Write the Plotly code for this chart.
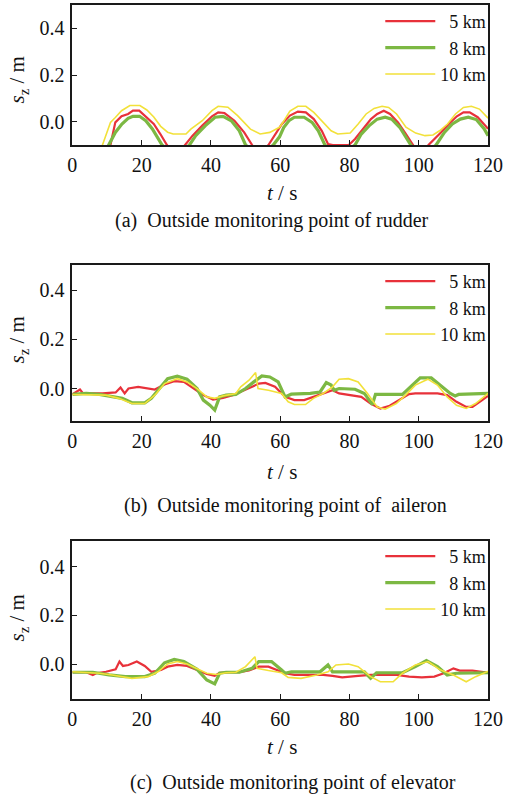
import plotly.graph_objects as go

# ---------------- data ----------------
# (a) rudder
a_t_5km = [9.5, 11.0, 12.4, 14.2, 16.1, 17.5, 19.3, 21.2, 23.5, 25.4, 27.3, 29.8, 32.4, 34.7, 37.5, 40.3, 42.1, 43.9, 46.8, 49.6, 51.9, 54.2, 56.6, 58.9, 60.5, 62.8, 65.1, 67.4, 69.7, 72.0, 73.8, 75.2, 79.8, 81.6, 83.9, 86.2, 88.0, 89.9, 91.7, 94.0, 96.3, 98.2, 100.5, 102.8, 104.6, 106.4, 108.7, 111.0, 112.9, 114.7, 117.0, 119.3, 120.0]
a_sz_5km = [-0.15, -0.1, -0.003, 0.023, 0.033, 0.047, 0.047, 0.023, -0.01, -0.053, -0.1, -0.15, -0.1, -0.06, -0.017, 0.023, 0.04, 0.037, 0.004, -0.046, -0.1, -0.15, -0.1, -0.05, -0.01, 0.026, 0.043, 0.04, 0.011, -0.039, -0.096, -0.1, -0.1, -0.074, -0.031, 0.011, 0.033, 0.047, 0.033, -0.003, -0.053, -0.1, -0.15, -0.1, -0.074, -0.046, -0.01, 0.023, 0.04, 0.04, 0.019, -0.017, -0.03]
a_t_8km = [9.0, 10.5, 12.4, 14.3, 16.1, 17.5, 19.4, 21.2, 23.1, 24.9, 25.9, 29.8, 33.8, 35.6, 38.4, 41.2, 43.5, 45.9, 48.2, 50.0, 54.0, 58.0, 59.8, 61.0, 62.5, 64.1, 66.9, 69.2, 71.0, 72.9, 77.0, 81.6, 83.4, 85.7, 88.0, 90.3, 92.2, 94.5, 96.3, 97.7, 101.0, 105.0, 107.4, 109.7, 112.0, 114.3, 116.6, 118.9, 120.0]
a_sz_8km = [-0.15, -0.1, -0.046, -0.01, 0.014, 0.023, 0.023, 0.004, -0.031, -0.074, -0.1, -0.15, -0.1, -0.06, -0.017, 0.019, 0.023, 0.004, -0.039, -0.1, -0.15, -0.1, -0.065, -0.025, 0.004, 0.019, 0.019, -0.003, -0.039, -0.1, -0.15, -0.1, -0.053, -0.017, 0.011, 0.019, 0.011, -0.024, -0.067, -0.1, -0.15, -0.1, -0.046, -0.01, 0.011, 0.019, 0.009, -0.031, -0.06]
a_t_10km = [7.5, 8.65, 11.0, 12.4, 14.2, 16.6, 19.5, 21.5, 23.5, 25.5, 27.5, 29.1, 32.8, 34.2, 37.5, 40.3, 42.1, 44.9, 47.7, 51.4, 54.2, 57.0, 59.8, 60.7, 62.8, 65.1, 67.4, 69.7, 72.4, 74.7, 76.6, 80.2, 82.5, 84.8, 87.1, 89.4, 91.3, 93.6, 96.3, 99.1, 101.8, 104.1, 106.0, 108.3, 110.6, 112.9, 115.2, 117.5, 120.0]
a_sz_10km = [-0.15, -0.1, -0.003, 0.018, 0.047, 0.069, 0.069, 0.05, 0.02, -0.02, -0.045, -0.053, -0.053, -0.032, 0.004, 0.047, 0.066, 0.062, 0.026, -0.032, -0.053, -0.046, -0.024, -0.005, 0.045, 0.066, 0.066, 0.04, -0.003, -0.039, -0.053, -0.049, -0.01, 0.033, 0.057, 0.066, 0.061, 0.033, -0.024, -0.049, -0.06, -0.057, -0.039, -0.01, 0.033, 0.061, 0.066, 0.054, 0.015]

# (b) aileron
b_t_5km = [0, 2.2, 3.1, 8.7, 12.5, 13.9, 15.1, 16.2, 19.0, 21.9, 23.8, 26.6, 29.4, 32.2, 35.0, 37.8, 40.6, 43.5, 46.3, 49.1, 51.9, 53.8, 55.7, 58.5, 61.4, 64.1, 66.9, 69.6, 72.4, 75.1, 77.0, 80.6, 83.4, 86.1, 88.9, 91.6, 94.4, 97.2, 99.0, 105.4, 108.2, 110.9, 113.7, 115.5, 118.3, 120.0]
b_sz_5km = [-0.024, -0.004, -0.02, -0.02, -0.016, 0.004, -0.02, 0.0, 0.007, 0.0, -0.004, 0.016, 0.03, 0.027, 0.0, -0.027, -0.045, -0.038, -0.027, -0.011, 0.007, 0.02, 0.023, 0.007, -0.034, -0.047, -0.047, -0.034, -0.02, -0.007, -0.02, -0.027, -0.034, -0.061, -0.081, -0.07, -0.047, -0.023, -0.02, -0.02, -0.027, -0.054, -0.075, -0.075, -0.047, -0.03]
b_t_8km = [0, 4.0, 7.8, 11.5, 14.4, 17.2, 20.9, 22.8, 25.2, 27.5, 30.3, 33.1, 36.0, 37.8, 39.7, 41.1, 42.5, 44.4, 47.2, 50.0, 52.4, 54.7, 57.0, 59.4, 61.4, 63.2, 68.7, 71.5, 73.3, 74.7, 75.6, 77.0, 81.6, 84.3, 86.6, 87.5, 95.3, 98.1, 100.4, 103.6, 106.3, 109.1, 110.5, 111.5, 120.0]
b_sz_8km = [-0.024, -0.02, -0.024, -0.034, -0.04, -0.058, -0.058, -0.04, 0.0, 0.04, 0.05, 0.038, 0.0, -0.047, -0.068, -0.088, -0.034, -0.027, -0.024, 0.0, 0.027, 0.051, 0.047, 0.027, -0.034, -0.023, -0.02, -0.014, 0.024, 0.014, -0.007, 0.0, -0.003, -0.02, -0.065, -0.024, -0.024, 0.014, 0.043, 0.043, 0.014, -0.02, -0.03, -0.024, -0.02]
b_t_10km = [0, 5.9, 9.7, 13.4, 17.2, 20.9, 23.8, 26.6, 30.3, 33.1, 36.0, 38.8, 41.1, 43.5, 47.2, 48.6, 51.0, 52.9, 53.6, 56.6, 60.4, 62.3, 64.1, 67.3, 69.6, 72.4, 75.1, 77.0, 79.7, 82.5, 85.2, 88.0, 90.3, 93.5, 96.2, 99.0, 102.6, 105.4, 108.2, 110.9, 113.7, 116.4, 119.2, 120.0]
b_sz_10km = [-0.024, -0.024, -0.027, -0.04, -0.061, -0.061, -0.027, 0.02, 0.04, 0.027, 0.0, -0.034, -0.04, -0.03, -0.02, 0.007, 0.034, 0.065, 0.0, -0.007, -0.02, -0.054, -0.065, -0.065, -0.04, -0.02, 0.007, 0.038, 0.04, 0.027, -0.02, -0.075, -0.084, -0.061, -0.027, 0.014, 0.038, 0.014, -0.034, -0.068, -0.081, -0.061, -0.027, -0.02]

# (c) elevator
c_t_5km = [0, 4.0, 5.9, 6.9, 9.7, 12.5, 13.6, 14.6, 16.2, 18.6, 20.9, 22.8, 25.6, 27.5, 30.3, 33.1, 36.0, 38.8, 41.1, 42.5, 45.4, 48.2, 51.0, 53.8, 56.6, 59.4, 61.4, 64.1, 72.4, 75.1, 77.9, 82.5, 86.1, 93.6, 97.2, 100.9, 104.5, 107.2, 110.0, 111.8, 115.5, 119.2, 120.0]
c_sz_5km = [-0.034, -0.034, -0.045, -0.038, -0.032, -0.022, 0.01, -0.008, -0.004, 0.01, -0.008, -0.032, -0.025, -0.011, -0.004, -0.008, -0.025, -0.041, -0.049, -0.036, -0.034, -0.034, -0.027, -0.011, -0.011, -0.025, -0.038, -0.045, -0.045, -0.049, -0.055, -0.049, -0.045, -0.045, -0.052, -0.055, -0.052, -0.038, -0.018, -0.027, -0.027, -0.034, -0.034]
c_t_8km = [0, 5.9, 10.6, 15.3, 20.9, 23.8, 26.6, 29.4, 32.2, 36.0, 38.8, 41.1, 42.5, 44.4, 48.2, 51.9, 53.8, 57.5, 60.4, 61.4, 63.2, 71.5, 73.8, 75.1, 84.3, 86.1, 87.8, 95.3, 99.0, 102.2, 105.4, 108.2, 110.9, 119.2, 120.0]
c_sz_8km = [-0.034, -0.034, -0.045, -0.052, -0.052, -0.038, 0.005, 0.019, 0.01, -0.022, -0.066, -0.082, -0.038, -0.034, -0.034, -0.018, 0.01, 0.01, -0.025, -0.038, -0.032, -0.032, -0.004, -0.032, -0.032, -0.059, -0.036, -0.036, -0.011, 0.014, -0.011, -0.045, -0.038, -0.036, -0.036]
c_t_10km = [0, 3.1, 7.8, 11.5, 17.2, 21.9, 24.7, 27.5, 30.3, 33.1, 36.0, 38.8, 41.6, 44.4, 47.2, 50.0, 52.7, 53.3, 56.6, 60.4, 62.3, 66.0, 70.6, 73.8, 76.1, 79.7, 82.5, 86.1, 88.9, 92.6, 95.3, 99.0, 102.7, 106.3, 110.0, 113.7, 116.4, 119.2, 120.0]
c_sz_10km = [-0.032, -0.034, -0.038, -0.045, -0.059, -0.052, -0.032, 0.0, 0.01, 0.0, -0.018, -0.038, -0.043, -0.036, -0.034, -0.011, 0.03, -0.018, -0.027, -0.036, -0.055, -0.059, -0.045, -0.032, -0.004, 0.0, -0.011, -0.052, -0.073, -0.073, -0.038, -0.004, 0.01, -0.025, -0.045, -0.073, -0.052, -0.034, -0.03]

series_names = ["\u20075 km", "\u20078 km", "10 km"]
captions = ["(a)  Outside monitoring point of rudder",
            "(b)  Outside monitoring point of  aileron",
            "(c)  Outside monitoring point of elevator"]
x_ticks = [0, 20, 40, 60, 80, 100, 120]
y_ticks = [0.0, 0.2, 0.4]

# ---------------- styling ----------------
W, H = 530, 800
FONT = "Liberation Serif, Times New Roman, serif"
TXT = "#111111"
colors = ["#E8313A", "#7CB843", "#F2E13A"]
widths = [2.2, 3.2, 1.6]

def px_x(p):
    return p / W

def px_y(p):
    return 1 - p / H

boxes = [(5, 145), (265, 421), (541, 699)]
yranges = [[-0.1, 0.5], [-0.132, 0.502], [-0.144, 0.506]]
xtitle_y = [193, 472, 747]
caption_y = [220, 505, 782]
caption_x = [277, 292, 299]
ytitle_y = [80, 340, 618]
legend_top = [3, 263, 538]

panels = [
    [(a_t_5km, a_sz_5km), (a_t_8km, a_sz_8km), (a_t_10km, a_sz_10km)],
    [(b_t_5km, b_sz_5km), (b_t_8km, b_sz_8km), (b_t_10km, b_sz_10km)],
    [(c_t_5km, c_sz_5km), (c_t_8km, c_sz_8km), (c_t_10km, c_sz_10km)],
]

fig = go.Figure()
annotations = []
layout = dict(
    width=W, height=H,
    margin=dict(l=0, r=0, t=0, b=0),
    paper_bgcolor="white", plot_bgcolor="white",
    font=dict(family=FONT, size=19, color=TXT),
)

for i, panel in enumerate(panels):
    k = "" if i == 0 else str(i + 1)
    leg = "legend" + k
    for j, (t, s) in enumerate(panel):
        fig.add_trace(go.Scatter(
            x=t, y=s, mode="lines", name=series_names[j],
            line=dict(color=colors[j], width=widths[j]),
            xaxis="x" + k, yaxis="y" + k, legend=leg,
        ))
    top, bot = boxes[i]
    axis_common = dict(
        showline=True, linecolor="#1a1a1a", linewidth=1.5, mirror=True,
        ticks="inside", ticklen=5, tickwidth=1.3, tickcolor="#1a1a1a",
        showgrid=False, zeroline=False,
        tickfont=dict(family=FONT, size=20, color=TXT),
    )
    layout["xaxis" + k] = dict(
        axis_common, domain=[px_x(70), px_x(502)], range=[0, 120],
        tickvals=x_ticks, anchor="y" + k, ticklabelstandoff=1,
    )
    layout["yaxis" + k] = dict(
        axis_common, domain=[px_y(bot), px_y(top)], range=yranges[i],
        tickvals=y_ticks, tickformat=".1f", anchor="x" + k, ticklabelstandoff=2,
    )
    layout[leg] = dict(
        x=px_x(390), y=px_y(legend_top[i]), xanchor="left", yanchor="top",
        bgcolor="rgba(0,0,0,0)", borderwidth=0,
        font=dict(family=FONT, size=18, color=TXT),
        tracegroupgap=0, itemwidth=50,
    )
    annotations.append(dict(
        text="<i>s</i><sub>z</sub> / m", x=px_x(14), y=px_y(ytitle_y[i]),
        xref="paper", yref="paper", showarrow=False, textangle=-90,
        xanchor="center", yanchor="middle",
        font=dict(family=FONT, size=21, color=TXT),
    ))
    annotations.append(dict(
        text="<i>t</i> / s", x=px_x(288), y=px_y(xtitle_y[i]),
        xref="paper", yref="paper", showarrow=False,
        xanchor="center", yanchor="middle",
        font=dict(family=FONT, size=21, color=TXT),
    ))
    annotations.append(dict(
        text=captions[i].replace("  ", "\u00a0\u00a0"), x=px_x(caption_x[i]), y=px_y(caption_y[i]),
        xref="paper", yref="paper", showarrow=False,
        xanchor="center", yanchor="middle",
        font=dict(family=FONT, size=20, color=TXT),
    ))

layout["annotations"] = annotations
layout["showlegend"] = True
fig.update_layout(**layout)
fig.write_html("out.html")
